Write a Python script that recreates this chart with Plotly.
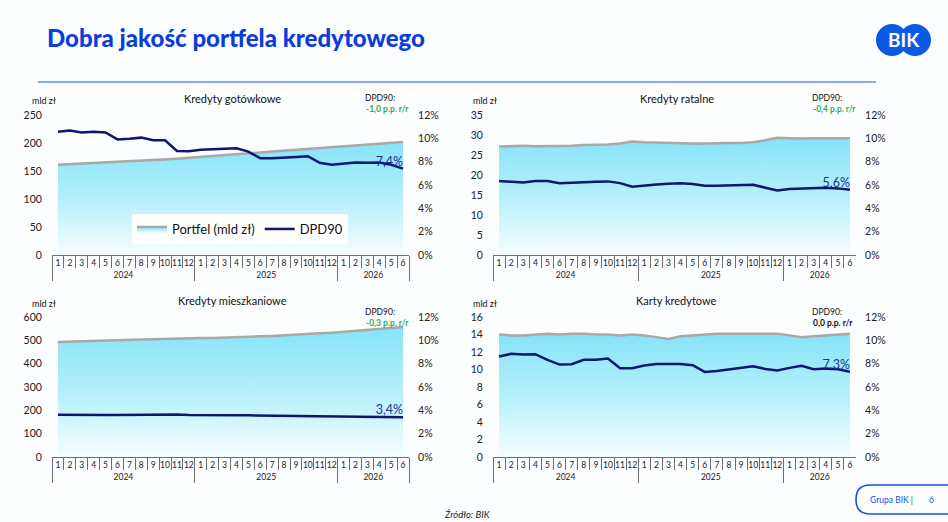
import plotly.graph_objects as go

# category labels (two-level axis: year / month)
years = ["2024"] * 12 + ["2025"] * 12 + ["2026"] * 6
months = ["1", "2", "3", "4", "5", "6", "7", "8", "9", "10", "11", "12",
          "1", "2", "3", "4", "5", "6", "7", "8", "9", "10", "11", "12",
          "1", "2", "3", "4", "5", "6"]

# Kredyty gotówkowe
gotowkowe_portfel = [161, 162, 163, 164, 165, 166, 167, 168.5, 170, 171, 172, 173.5,
                     175, 176, 178, 180, 181.5, 183, 185, 186.5, 188, 189.5, 191, 192,
                     194, 195.5, 197, 198.5, 200, 202]
gotowkowe_dpd = [10.57, 10.68, 10.51, 10.57, 10.51, 9.91, 9.97, 10.06, 9.83, 9.83, 8.92, 8.89,
                 9.03, 9.09, 9.09, 9.15, 8.86, 8.30, 8.30, 8.38, 8.41, 8.47, 7.90, 7.73,
                 7.84, 7.93, 7.90, 7.93, 7.73, 7.40]

# Kredyty ratalne
ratalne_portfel = [27.1, 27.2, 27.3, 27.2, 27.2, 27.2, 27.3, 27.5, 27.6, 27.6, 27.9, 28.4,
                   28.2, 28.1, 28.0, 28.0, 27.9, 27.9, 28.0, 28.0, 28.0, 28.2, 28.7, 29.3,
                   29.2, 29.1, 29.2, 29.2, 29.2, 29.2]
ratalne_dpd = [6.34, 6.31, 6.22, 6.34, 6.34, 6.16, 6.22, 6.22, 6.28, 6.31, 6.16, 5.85,
               5.97, 6.05, 6.11, 6.14, 6.08, 5.94, 5.94, 5.97, 6.02, 6.02, 5.77, 5.54,
               5.65, 5.71, 5.71, 5.77, 5.71, 5.60]

# Kredyty mieszkaniowe
mieszk_portfel = [493, 495, 496, 498, 499, 501, 502, 504, 505, 507, 508, 509,
                  510, 510, 511, 513, 515, 517, 519, 521, 524, 527, 530, 533,
                  537, 541, 545, 549, 553, 557]
mieszk_dpd = [3.62, 3.60, 3.58, 3.58, 3.59, 3.60, 3.62, 3.63, 3.64, 3.65, 3.64, 3.60,
              3.58, 3.58, 3.58, 3.57, 3.57, 3.56, 3.55, 3.55, 3.54, 3.53, 3.47, 3.45,
              3.45, 3.44, 3.43, 3.42, 3.41, 3.40]

# Karty kredytowe
karty_portfel = [14.0, 13.9, 13.9, 14.0, 14.1, 14.0, 14.1, 14.1, 14.0, 14.0, 13.9, 14.0,
                 13.9, 13.7, 13.5, 13.8, 13.9, 14.0, 14.1, 14.1, 14.1, 14.1, 14.1, 14.1,
                 13.9, 13.7, 13.8, 13.9, 14.0, 14.1]
karty_dpd = [8.61, 8.84, 8.79, 8.81, 8.33, 7.92, 7.95, 8.33, 8.33, 8.44, 7.61, 7.61,
             7.84, 7.98, 7.98, 7.98, 7.87, 7.29, 7.38, 7.52, 7.61, 7.78, 7.55, 7.41,
             7.64, 7.81, 7.52, 7.58, 7.52, 7.30]

titles = ["Kredyty gotówkowe", "Kredyty ratalne", "Kredyty mieszkaniowe", "Karty kredytowe"]
yoy_change = ["-1,0 p.p. r/r", "-0,4 p.p. r/r", "-0,3 p.p. r/r", "0,0 p.p. r/r"]
left_max = [250, 35, 600, 16]
left_step = [50, 5, 100, 2]

portfele = [gotowkowe_portfel, ratalne_portfel, mieszk_portfel, karty_portfel]
dpds = [gotowkowe_dpd, ratalne_dpd, mieszk_dpd, karty_dpd]

W, H = 948, 522
FONT = "Lato"


def px(x):
    return x / W


def py(y):
    return 1 - y / H


def note(x, y, text, size, color, anchor="left", **kw):
    return dict(x=px(x), y=py(y), xref="paper", yref="paper", text=text, showarrow=False,
                xanchor=anchor, yanchor="middle",
                font=dict(family=FONT, size=size, color=color), **kw)


# panel boxes in pixels: (left, right, top, bottom)
boxes = [(52, 409, 115, 255), (493, 856, 115, 255),
         (52, 409, 317, 457), (493, 856, 317, 457)]

fig = go.Figure()
layout_axes = {}
annotations = []

for i in range(4):
    xa = "x" if i == 0 else f"x{i + 1}"
    yl = f"y{2 * i + 1}" if i > 0 else "y"
    yr = f"y{2 * i + 2}"
    port = portfele[i]
    dpd = dpds[i]

    fig.add_trace(go.Scatter(
        x=[years, months], y=port, name="Portfel (mld zł)", mode="lines",
        fill="tozeroy", line=dict(color="#a8a8a8", width=2.5),
        fillcolor="#9feaf9",
        fillgradient=dict(type="vertical", start=0, stop=max(port),
                          colorscale=[[0, "#f7fdff"], [0.45, "#baf1fc"], [1, "#86e3f8"]]),
        xaxis=xa, yaxis=yl, showlegend=(i == 0), hoverinfo="skip"))
    fig.add_trace(go.Scatter(
        x=[years, months], y=dpd, name="DPD90", mode="lines",
        line=dict(color="#0d1670", width=2.5),
        xaxis=xa, yaxis=yr, showlegend=(i == 0)))
    # end value label
    fig.add_trace(go.Scatter(
        x=[[years[-1]], [months[-1]]], y=[dpd[-1]], mode="text",
        text=[f"{dpd[-1]:.1f}%".replace(".", ",")], textposition="top left",
        textfont=dict(family=FONT, size=12.5, color="#1d2f95"),
        xaxis=xa, yaxis=yr, showlegend=False, hoverinfo="skip"))

    l, r, t, b = boxes[i]
    xkey = "xaxis" if i == 0 else f"xaxis{i + 1}"
    ylkey = "yaxis" if i == 0 else f"yaxis{2 * i + 1}"
    yrkey = f"yaxis{2 * i + 2}"
    layout_axes[xkey] = dict(
        domain=[px(l), px(r)], anchor=yl, type="multicategory", tickangle=0,
        range=[-0.5, len(months) - 0.5], automargin=False,
        showline=True, linecolor="#6f6f6f", linewidth=1,
        ticks="outside", tickson="boundaries", ticklen=12, tickcolor="#6f6f6f", tickwidth=1,
        showdividers=True, dividercolor="#6f6f6f", dividerwidth=1,
        tickfont=dict(family=FONT, size=8.5, color="#222"),
        showgrid=False, zeroline=False)
    layout_axes[ylkey] = dict(
        domain=[py(b), py(t)], anchor=xa, range=[0, left_max[i]], dtick=left_step[i],
        automargin=False,
        showgrid=False, zeroline=False, showline=False,
        ticks="outside", ticklen=7, tickcolor="rgba(0,0,0,0)",
        tickfont=dict(family=FONT, size=10.5, color="#222"))
    layout_axes[yrkey] = dict(
        overlaying=yl, anchor=xa, side="right", range=[0, 12], dtick=2, ticksuffix="%",
        automargin=False,
        showgrid=False, zeroline=False, showline=False,
        ticks="outside", ticklen=6, tickcolor="rgba(0,0,0,0)",
        tickfont=dict(family=FONT, size=10.5, color="#222"))

    # panel texts
    annotations.append(note((l + r) / 2 + 2, t - 17, titles[i], 11, "#111", anchor="center"))
    annotations.append(note(l - 22, t - 14, "mld zł", 9, "#111"))
    dpd_y = t - 17 if i < 2 else t - 5
    annotations.append(note(r - 46, dpd_y, "DPD90:", 8.5, "#111"))
    chg_color = "#111" if yoy_change[i].startswith("0,0") else "#1fb356"
    annotations.append(note(r - 45, dpd_y + 11, "<b>" + yoy_change[i] + "</b>", 8.5, chg_color))

# header / footer texts
annotations.append(dict(note(45, 38, "Dobra jakość portfela kredytowego", 24, "#0b3ddc")))
annotations[-1]["font"]["weight"] = 900
annotations.append(note(903.5, 40, "<b>BIK</b>", 19, "white", anchor="center"))
annotations.append(note(467, 514, "<i>Źródło: BIK</i>", 9.5, "#222", anchor="center"))
annotations.append(note(891, 500, "Grupa BIK |", 8.5, "#1a4fe0", anchor="center"))
annotations.append(note(931, 500, "6", 8.5, "#1a4fe0", anchor="center"))

shapes = [
    dict(type="line", xref="paper", yref="paper", x0=px(38), x1=px(876), y0=py(82), y1=py(82),
         line=dict(color="#5d8cf0", width=1.3)),
    dict(type="circle", xref="paper", yref="paper", x0=px(876), x1=px(908), y0=py(56), y1=py(24),
         fillcolor="#0a5ae6", line=dict(width=0)),
    dict(type="circle", xref="paper", yref="paper", x0=px(899), x1=px(931), y0=py(56), y1=py(24),
         fillcolor="#0a5ae6", line=dict(width=0)),
    dict(type="path", xref="paper", yref="paper",
         path=(f"M {px(960)},{py(485)} L {px(870)},{py(485)} "
               f"Q {px(856)},{py(485)} {px(856)},{py(499.5)} "
               f"Q {px(856)},{py(514)} {px(870)},{py(514)} L {px(960)},{py(514)}"),
         line=dict(color="#1a4fe0", width=1.6)),
]

fig.update_layout(
    width=W, height=H, margin=dict(l=0, r=0, t=0, b=0, autoexpand=False),
    paper_bgcolor="#fbfdff", plot_bgcolor="rgba(0,0,0,0)",
    font=dict(family=FONT, color="#222"),
    showlegend=True,
    legend=dict(x=px(132), y=py(214), xanchor="left", yanchor="top", orientation="h",
                bgcolor="white", font=dict(family=FONT, size=13, color="#111"),
                itemwidth=30, tracegroupgap=0),
    annotations=annotations, shapes=shapes,
    **layout_axes)

fig.write_html("out.html", config={"displayModeBar": False},
               post_script="document.body.style.margin='0';document.body.style.overflow='hidden';")
